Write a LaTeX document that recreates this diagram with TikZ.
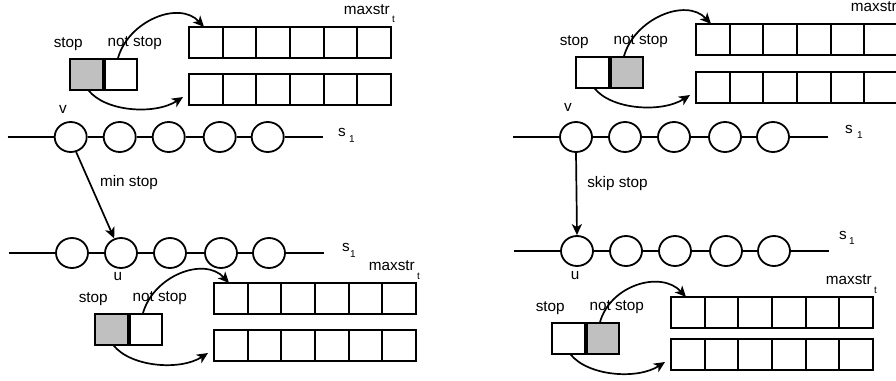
\documentclass[tikz,border=0pt]{standalone}
\usepackage{fontspec}
\setmainfont{Liberation Sans}
\usetikzlibrary{shapes.geometric,arrows.meta,calc}
\definecolor{boxgray}{RGB}{192,192,192}
\tikzset{
  cell/.style={draw, line width=2pt, minimum width=33.67pt, minimum height=31pt,
    inner sep=0pt, outer sep=0pt, anchor=north west},
  flagbox/.style={cell, minimum width=32.5pt},
  fillgray/.style={fill=boxgray},
  fillwhite/.style={fill=white},
  vert/.style={draw, ellipse, line width=1.8pt, minimum width=32pt, minimum height=30pt,
    inner sep=0pt, fill=white},
  txt/.style={inner sep=0pt, font=\fontsize{15.3}{18}\selectfont},
  subtxt/.style={inner sep=0pt, font=\fontsize{10}{12}\selectfont},
  link/.style={line width=1.8pt},
  arrowline/.style={line width=1.7pt, -{Stealth[length=11pt,width=10pt,inset=3pt]}},
}

% A stop / not-stop flag pair with its two rows of six cells.
% #1 prefix, #2 #3 top-left of the flag pair, #4 left x of the rows,
% #5 top y of the upper row, #6 top y of the lower row,
% #7 style of the stop box, #8 style of the not-stop box
\newcommand\flaggroup[8]{%
  \node[flagbox,#7] (#1s) at (#2,#3) {};
  \node[flagbox,#8] (#1n) at (#2+34.5,#3) {};
  \node[txt] (#1sl) at ($(#1s.north)+(-18,-15)$) {stop};
  \node[txt] (#1nl) at ($(#1n.north)+(14,-15.5)$) {not stop};
  \foreach \i in {1,...,6} {
    \node[cell] (#1t\i) at ({#4+(\i-1)*33.67},#5) {};
    \node[cell] (#1b\i) at ({#4+(\i-1)*33.67},#6) {};
  }
  \node[txt, anchor=base east] (#1m) at ($(#1t6.north east)+(-1,-13)$) {maxstr};
  \node[subtxt, anchor=base west] (#1mt) at ($(#1m.base east)+(2,9)$) {t};
  \draw[arrowline] ($(#1n.north)+(-3,0)$) .. controls +(10,-38) and +(-25,-27) ..
    ($(#1t1.north west)+(15,0)$);
  \draw[arrowline] ($(#1s.south)+(2,0)$) .. controls +(17,22) and +(-28,18) ..
    ($(#1b1.west)+(-6,7.5)$);
}

% A chain of five vertices on a horizontal line.
% #1 prefix, #2 x of the first vertex, #3 y of the line
\newcommand\vchain[3]{%
  \coordinate (#1L) at (#2-63,#3);
  \coordinate (#1R) at (#2+252,#3);
  \node[vert] (#11) at (#2,#3) {};
  \node[vert] (#12) at (#2+49,#3) {};
  \node[vert] (#13) at (#2+98,#3) {};
  \node[vert] (#14) at (#2+149,#3) {};
  \node[vert] (#15) at (#2+197,#3) {};
  \draw[link] (#1L) -- (#11) -- (#12) -- (#13) -- (#14) -- (#15) -- (#1R);
}

\begin{document}
\begin{tikzpicture}[x=1pt, y=-1pt]
  \useasboundingbox (0,0) rectangle (896,380);
  \clip (0,0) rectangle (896,380);

  % left panel
  \flaggroup{lt}{70}{59}{189}{27}{74}{fillgray}{fillwhite}
  \vchain{ltc}{70.7}{137}
  \node[txt] (ltv) at (63,109) {v};
  \node[txt] (lts1) at (342,132) {s};
  \node[subtxt] (lts1i) at (352,139) {1};

  \vchain{lbc}{72}{253}
  \node[txt] (lbu) at (118,277) {u};
  \node[txt] (lbs1) at (346,247) {s};
  \node[subtxt] (lbs1i) at (353,254) {1};
  \flaggroup{lb}{95}{314}{214}{283}{330}{fillgray}{fillwhite}

  \draw[arrowline] (ltc1.-70) -- (lbc2.115);
  \node[txt] (minstop) at (129,183) {min stop};

  % right panel
  \flaggroup{rt}{576}{57}{696}{24}{72}{fillwhite}{fillgray}
  \vchain{rtc}{576}{137}
  \node[txt] (rtv) at (568,107) {v};
  \node[txt] (rts1) at (849,129) {s};
  \node[subtxt] (rts1i) at (860,135) {1};

  \vchain{rbc}{577}{251}
  \node[txt] (rbu) at (575,276) {u};
  \node[txt] (rbs1) at (843,235) {s};
  \node[subtxt] (rbs1i) at (852,241) {1};
  \flaggroup{rb}{552}{323}{671}{297}{339}{fillwhite}{fillgray}

  \draw[arrowline] (rtc1.south) -- (rbc1.north);
  \node[txt] (skipstop) at (617.5,183.5) {skip stop};
\end{tikzpicture}
\end{document}
